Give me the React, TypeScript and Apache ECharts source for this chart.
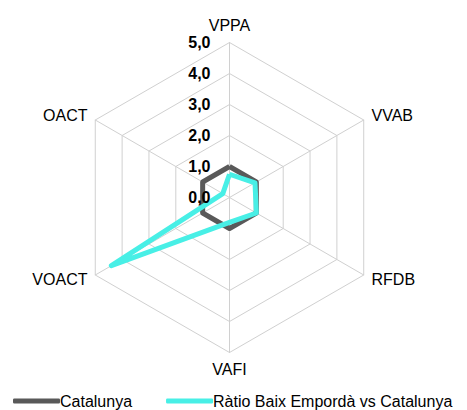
import React, { useEffect, useRef } from "react";
import * as echarts from "echarts";

// indicator names listed clockwise from the top
const indicatorNames = ["VPPA", "VVAB", "RFDB", "VAFI", "VOACT", "OACT"];
const catalunya = [1, 1, 1, 1, 1, 1];
const ratio = [0.75, 0.95, 1.0, 0.8, 4.4, 0.25];
const seriesNames = ["Catalunya", "Ràtio Baix Empordà vs Catalunya"];
const axisMax = 5;

const FONT = "Liberation Sans, Arial, sans-serif";

// ECharts lays radar indicators out counter-clockwise; reorder
const ccw = (arr: any[]) => [arr[0], ...arr.slice(1).reverse()];

export default function App() {
  const ref = useRef<HTMLDivElement>(null);
  useEffect(() => {
    document.body.style.margin = "0";
    const chart = echarts.init(ref.current!, null, { renderer: "svg" });
    chart.setOption({
      animation: false,
      textStyle: { fontFamily: FONT },
      legend: {
        data: seriesNames,
        left: 8,
        top: 388,
        itemWidth: 47,
        itemHeight: 5,
        itemGap: 34,
        icon: "roundRect",
        textStyle: { fontSize: 16, color: "#000", fontFamily: FONT, padding: [0, 0, 0, -5] },
      },
      radar: {
        center: [229.5, 197.5],
        radius: 155,
        startAngle: 90,
        splitNumber: 5,
        shape: "polygon",
        indicator: ccw(indicatorNames).map((n) => ({ name: n, min: 0, max: axisMax })),
        axisName: { color: "#000", fontSize: 16, fontFamily: FONT },
        nameGap: 9,
        splitLine: { lineStyle: { color: "#d0d0d0", width: 1 } },
        splitArea: { show: false },
        axisLine: { lineStyle: { color: "#d0d0d0", width: 1 } },
        axisTick: { show: false },
        axisLabel: { show: false },
      },
      grid: { left: 229.5, top: 42.5, height: 155, width: 1, z: 10 },
      xAxis: { type: "value", show: false },
      yAxis: {
        type: "value",
        min: 0,
        max: axisMax,
        interval: 1,
        z: 10,
        axisLine: { show: false },
        axisTick: { show: false },
        splitLine: { show: false },
        axisLabel: {
          fontSize: 16,
          fontWeight: "bold",
          color: "#000",
          margin: 19,
          fontFamily: FONT,
          formatter: (v: number) => v.toFixed(1).replace(".", ","),
        },
      },
      series: [
        {
          type: "radar",
          symbol: "none",
          z: 2,
          data: [
            {
              name: seriesNames[0],
              value: ccw(catalunya),
              lineStyle: { color: "#595959", width: 5 },
              itemStyle: { color: "#595959" },
            },
            {
              name: seriesNames[1],
              value: ccw(ratio),
              lineStyle: { color: "#48EFE6", width: 5 },
              itemStyle: { color: "#48EFE6" },
            },
          ],
        },
      ],
    });
    return () => chart.dispose();
  }, []);
  return (
    <div
      ref={ref}
      style={{ position: "fixed", left: 0, top: 0, width: 467, height: 410, background: "#fff" }}
    />
  );
}
